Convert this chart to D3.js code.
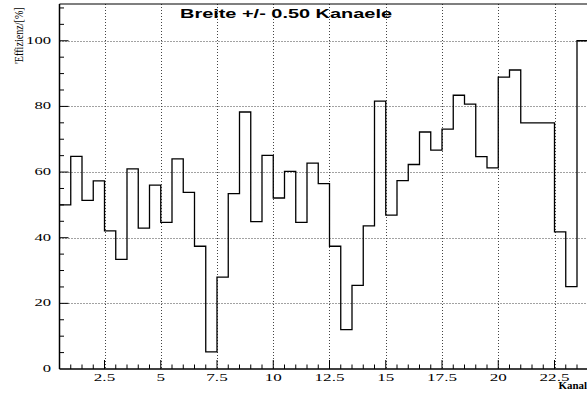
<!DOCTYPE html>
<html><head><meta charset="utf-8">
<script src="https://cdn.jsdelivr.net/npm/d3@7"></script>
<style>body{margin:0;background:#fff}svg{display:block}</style>
</head><body>
<script>
const binStarts = [0.5,1,1.5,2,2.5,3,3.5,4,4.5,5,5.5,6,6.5,7,7.5,8,8.5,9,9.5,10,10.5,11,11.5,12,12.5,13,13.5,14,14.5,15,15.5,16,16.5,17,17.5,18,18.5,19,19.5,20,20.5,21,21.5,22,22.5,23,23.5];
const efficiency = [50,64.8,51.4,57.3,42.1,33.4,61.0,42.9,56.0,44.7,64.0,53.8,37.4,5.2,28.0,53.4,78.3,44.9,65.1,52.1,60.2,44.7,62.7,56.5,37.4,12.0,25.5,43.6,81.6,46.9,57.4,62.3,72.2,66.7,73.1,83.4,80.7,64.7,61.3,88.9,91.1,75,75,75,41.8,25.1,100];
const binWidth = 0.5;
const xMajorTicks = [2.5,5,7.5,10,12.5,15,17.5,20,22.5];
const xTickLabels = ["2.5","5","7.5","10","12.5","15","17.5","20","22.5"];
const yMajorTicks = [0,20,40,60,80,100];
const yTickLabels = ["0","20","40","60","80","100"];
const title = "Breite +/- 0.50 Kanaele";
const xTitle = "Kanal";
const yTitle = "'Effizienz/[%]";

const W = 587, H = 398;
const svg = d3.select("body").append("svg").attr("width", W).attr("height", H);
const x = d3.scaleLinear().domain([0.5, 24]).range([59.5, 588.25]);
const y = d3.scaleLinear().domain([0, 111.2]).range([369, 4]);

// grid
const g = svg.append("g").attr("stroke", "#444").attr("stroke-width", 1).attr("stroke-dasharray", "1,2").attr("fill", "none");
xMajorTicks.forEach(t => g.append("line").attr("x1", Math.round(x(t))+0.5).attr("x2", Math.round(x(t))+0.5).attr("y1", y(111.2)).attr("y2", y(0)));
yMajorTicks.filter(t => t > 0).forEach(t => g.append("line").attr("x1", x(0.5)).attr("x2", W).attr("y1", Math.round(y(t))+0.5).attr("y2", Math.round(y(t))+0.5));

// histogram
const pts = binStarts.map((s, i) => [s, efficiency[i]]);
pts.push([binStarts[binStarts.length-1] + binWidth, efficiency[efficiency.length-1]]);
const line = d3.line().x(d => x(d[0])).y(d => y(d[1])).curve(d3.curveStepAfter);
svg.append("path").attr("d", line(pts)).attr("fill", "none").attr("stroke", "#000").attr("stroke-width", 1.3);

// frame
const fr = svg.append("g").attr("stroke", "#000").attr("fill", "none");
fr.append("line").attr("x1", x(0.5)).attr("x2", x(0.5)).attr("y1", y(111.2)).attr("y2", y(0)).attr("stroke-width", 1.5);
fr.append("line").attr("x1", x(0.5)).attr("x2", W).attr("y1", y(0)).attr("y2", y(0)).attr("stroke-width", 1.5);
fr.append("line").attr("x1", x(0.5)).attr("x2", W).attr("y1", y(111.2)).attr("y2", y(111.2)).attr("stroke-width", 1.2);

// ticks
const xMinor = d3.range(1, 24.01, 0.5);
xMinor.forEach(t => {
  const major = xMajorTicks.includes(t);
  fr.append("line").attr("x1", x(t)).attr("x2", x(t)).attr("y1", y(0)).attr("y2", y(0) - (major ? 9 : 4.5)).attr("stroke-width", 1);
});
const yMinor = d3.range(5, 111, 5);
yMinor.forEach(t => {
  const major = yMajorTicks.includes(t);
  fr.append("line").attr("x1", x(0.5)).attr("x2", x(0.5) + (major ? 9 : 4.5)).attr("y1", y(t)).attr("y2", y(t)).attr("stroke-width", 1);
});

// tick labels
const font = "'Liberation Serif', 'DejaVu Serif', serif";
function stretchedText(px, py, txt, anchor, sx, size) {
  svg.append("g").attr("transform", `translate(${px},${py}) scale(${sx},1)`)
    .append("text").attr("text-anchor", anchor).attr("font-family", font).attr("font-size", size).attr("fill", "#000").text(txt);
}
xMajorTicks.forEach((t, i) => stretchedText(x(t), 381, xTickLabels[i], "middle", 1.8, 9.5));
yMajorTicks.forEach((t, i) => stretchedText(51, y(t) + 3, yTickLabels[i], "end", 1.75, 9.5));

// titles
svg.append("text").attr("x", 180).attr("y", 18.3).attr("font-family", "'Liberation Sans', Arial, sans-serif")
  .attr("font-weight", "bold").attr("font-size", 12.5).attr("textLength", 212).attr("lengthAdjust", "spacingAndGlyphs").text(title);
svg.append("g").attr("transform", "translate(587,389) scale(1.15,1)")
  .append("text").attr("text-anchor", "end").attr("font-family", font).attr("font-weight", "bold").attr("font-size", 9.5).text(xTitle);
svg.append("g").attr("transform", "translate(23,64) rotate(-90) scale(0.78,1)")
  .append("text").attr("font-family", font).attr("font-size", 13).text(yTitle);
</script>
</body></html>
